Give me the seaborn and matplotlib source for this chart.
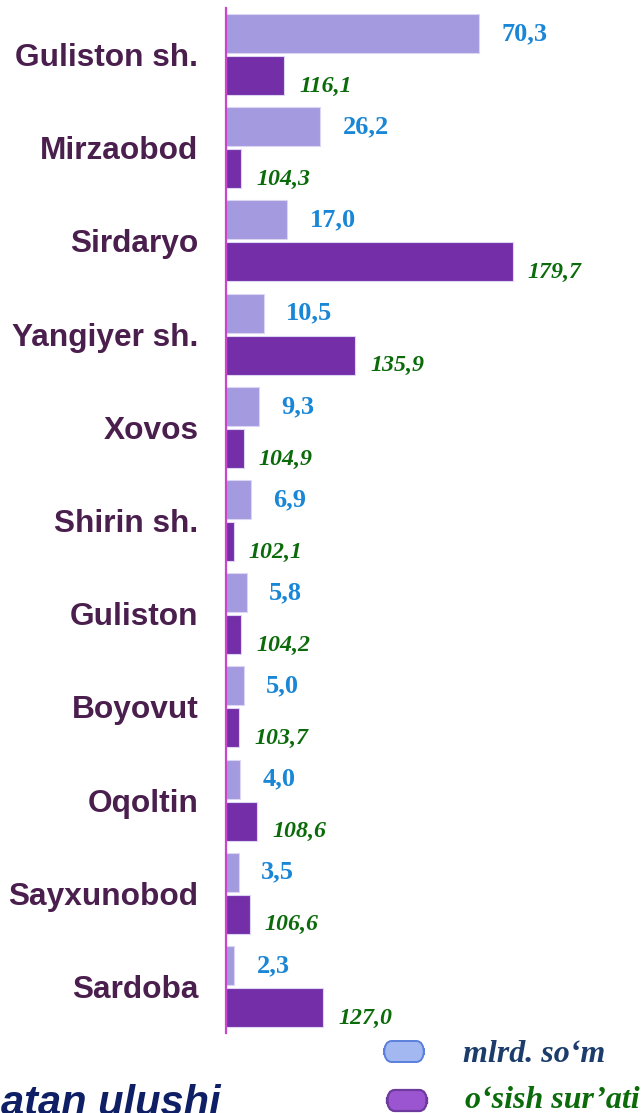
import matplotlib.pyplot as plt
import pandas as pd
import seaborn as sns
from matplotlib.patches import FancyBboxPatch

districts = ['Guliston sh.', 'Mirzaobod', 'Sirdaryo', 'Yangiyer sh.', 'Xovos',
             'Shirin sh.', 'Guliston', 'Boyovut', 'Oqoltin', 'Sayxunobod', 'Sardoba']
volume = [70.3, 26.2, 17.0, 10.5, 9.3, 6.9, 5.8, 5.0, 4.0, 3.5, 2.3]
growth = [116.1, 104.3, 179.7, 135.9, 104.9, 102.1, 104.2, 103.7, 108.6, 106.6, 127.0]

light_col = '#a39ae0'
dark_col = '#742fa8'
blue_txt = '#1a86d6'
green_txt = '#0b6b0b'

df = pd.concat([
    pd.DataFrame({'district': districts, 'series': 'vol', 'val': volume}),
    pd.DataFrame({'district': districts, 'series': 'gr', 'val': [g - 100 for g in growth]}),
])

sns.set_style('white')
fig = plt.figure(figsize=(6.43, 11.13), dpi=100)
ax = fig.add_axes([226 / 643, 80 / 1113, 417 / 643, 1025 / 1113])

sns.barplot(data=df, y='district', x='val', hue='series', hue_order=['vol', 'gr'],
            palette={'vol': light_col, 'gr': dark_col}, orient='h', saturation=1,
            width=0.9, gap=0.07, ax=ax, legend=False, errorbar=None,
            edgecolor='#ddd6f2', linewidth=0.8)

ax.set_xlim(0, 116.0)
ax.set_ylim(10.5, -0.5)
ax.set_xlabel('')
ax.set_ylabel('')
ax.set_xticks([])
ax.tick_params(axis='y', length=0, pad=20)
for lab in ax.get_yticklabels():
    lab.set_fontfamily('Liberation Sans')
    lab.set_fontweight('bold')
    lab.set_fontsize(22.8)
    lab.set_color('#4a1f4e')

for s in ['top', 'right', 'bottom']:
    ax.spines[s].set_visible(False)
ax.spines['left'].set_color('#cc44cc')
ax.spines['left'].set_linewidth(1.6)

for i, (v, g) in enumerate(zip(volume, growth)):
    ax.text(v + 6.2, i - 0.225, f'{v:.1f}'.replace('.', ','), ha='left', va='center',
            fontfamily='Liberation Serif', fontweight='bold', fontsize=19, color=blue_txt)
    ax.text(g - 100 + 4.2, i + 0.34, f'{g:.1f}'.replace('.', ','), ha='left', va='center',
            fontfamily='Liberation Serif', fontweight='bold', fontstyle='italic',
            fontsize=17.2, color=green_txt)

# legend
W, H = 643, 1113
fig.patches.append(FancyBboxPatch((384 / W, (H - 1062) / H), 40 / W, 21 / H,
                                  boxstyle='round,pad=0,rounding_size=0.012',
                                  transform=fig.transFigure, facecolor='#a3b8f0',
                                  edgecolor='#5b80dd', linewidth=1.4))
fig.patches.append(FancyBboxPatch((387 / W, (H - 1111) / H), 40 / W, 21 / H,
                                  boxstyle='round,pad=0,rounding_size=0.012',
                                  transform=fig.transFigure, facecolor='#9b55d0',
                                  edgecolor='#6e3a9e', linewidth=1.6))
fig.text(463 / W, (H - 1054) / H, 'mlrd. so‘m', ha='left', va='center',
         fontfamily='Liberation Serif', fontweight='bold', fontstyle='italic',
         fontsize=23, color='#1c3d6b')
fig.text(465 / W, (H - 1100) / H, 'o‘sish sur’ati', ha='left', va='center',
         fontfamily='Liberation Serif', fontweight='bold', fontstyle='italic',
         fontsize=23, color=green_txt)
fig.text(1 / W, (H - 1115) / H, 'atan ulushi', ha='left', va='baseline',
         fontfamily='Liberation Sans', fontweight='bold', fontstyle='italic',
         fontsize=30, color='#0f1f66')

fig.savefig('out.png', dpi=100)
